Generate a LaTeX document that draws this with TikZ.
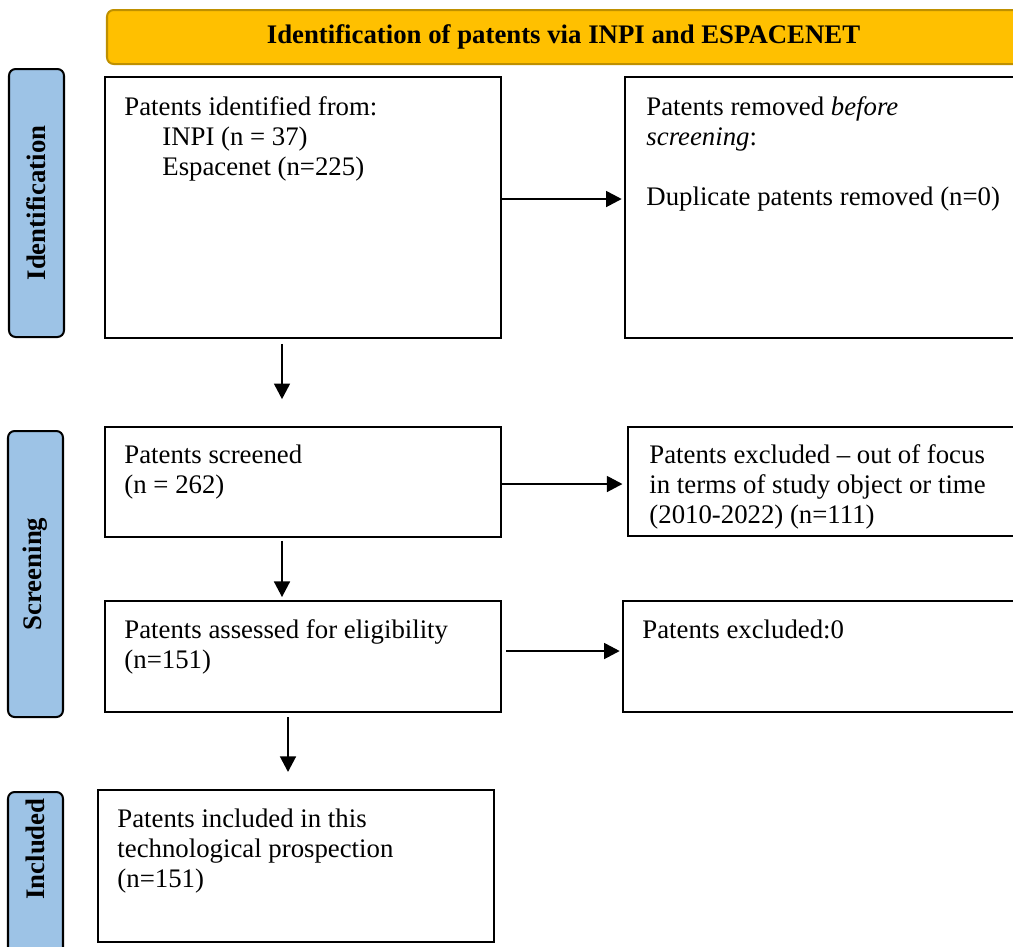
\documentclass[tikz,border=0pt]{standalone}
\usepackage{fontspec}
\setmainfont{Liberation Serif}
\usepackage{tikz}
\usetikzlibrary{arrows.meta,positioning,fit,calc}

\definecolor{headgold}{HTML}{FFC000}
\definecolor{headedge}{HTML}{BF9000}
\definecolor{phaseblue}{HTML}{9DC3E6}
\newcommand{\pu}{0.01574cm}

\begin{document}
\begin{tikzpicture}[x=\pu, y=-\pu,
    font=\fontsize{12}{13.5}\selectfont,
    box/.style={draw, line width=0.9pt, inner sep=0pt},
    phase/.style={draw, line width=0.9pt, rounded corners=3pt, fill=phaseblue, rotate=90, minimum height=55*\pu, inner sep=0pt, font=\fontsize{12}{13.5}\selectfont\bfseries},
    txt/.style={anchor=north west, align=left, inner sep=0pt},
    arr/.style={-{Triangle[length=7pt,width=7pt]}, line width=1.2pt}]

    \path[use as bounding box] (0,0) rectangle (1013,946);
    \clip (0,0) rectangle (1013,946);

    % header
    \node[box, draw=headedge, fill=headgold, rounded corners=3pt, fit={(107,10) (1020,64)}] (title) {};
    \node[inner sep=0pt, font=\fontsize{12}{13.5}\selectfont\bfseries] (titletxt) at (title.center) {Identification of patents via INPI and ESPACENET};

    % phases
    \node[phase, minimum width=268*\pu] (phaseid) at (36.5,203) {Identification};
    \node[phase, minimum width=286*\pu] (phasescr) at (35.5,574) {Screening};
    \node[phase, minimum width=168*\pu] (phaseinc) at (35.5,876) {};
    \node[rotate=90, inner sep=0pt, font=\fontsize{12}{13.5}\selectfont\bfseries] (phaseinctxt) at (35.5,849) {Included};

    % boxes
    \node[box, fit={(105,77) (501,338)}] (ident) {};
    \node[box, fit={(625,77) (1020,338)}] (removed) {};
    \node[box, fit={(105,427) (501,537)}] (screened) {};
    \node[box, fit={(628,427) (1020,536)}] (excluded) {};
    \node[box, fit={(105,601) (501,712)}] (assessed) {};
    \node[box, fit={(623,601) (1020,712)}] (noteligible) {};
    \node[box, fit={(98,790) (494,942)}] (included) {};

    \node[txt] (identtxt) at ($(ident.north west)+(20,20)$) {Patents identified from:\\\hspace*{17pt}INPI (n = 37)\\\hspace*{17pt}Espacenet (n=225)};
    \node[txt] (removedtxt) at ($(removed.north west)+(22,20)$) {Patents removed \textit{before}\\\textit{screening}:\\[13.5pt]Duplicate patents removed (n=0)};
    \node[txt] (screenedtxt) at ($(screened.north west)+(20,18)$) {Patents screened\\(n = 262)};
    \node[txt] (excludedtxt) at ($(excluded.north west)+(22,18)$) {Patents excluded -- out of focus\\in terms of study object or time\\(2010-2022) (n=111)};
    \node[txt] (assessedtxt) at ($(assessed.north west)+(20,19)$) {Patents assessed for eligibility\\(n=151)};
    \node[txt] (noteligibletxt) at ($(noteligible.north west)+(20,19)$) {Patents excluded:0};
    \node[txt] (includedtxt) at ($(included.north west)+(20,19)$) {Patents included in this\\technological prospection\\(n=151)};

    % arrows
    \coordinate (right1) at ($(ident.east)+(0,-8.5)$);
    \coordinate (right2) at ($(screened.east)+(0,2)$);
    \coordinate (right3) at ($(assessed.east)+(0,-5.5)$);
    \draw[arr, shorten >=1pt] (right1) -- (right1 -| removed.west);
    \draw[arr, shorten >=2pt] (right2) -- (right2 -| excluded.west);
    \draw[arr, shorten <=2pt, shorten >=1pt] (right3) -- (right3 -| noteligible.west);

    \coordinate (down1) at ($(ident.south)+(-21,0)$);
    \coordinate (down2) at ($(screened.south)+(-21,0)$);
    \coordinate (down3) at ($(assessed.south)+(-15,0)$);
    \draw[arr, shorten <=2.2pt, shorten >=12pt] (down1) -- (down1 |- screened.north);
    \draw[arr, shorten <=1.3pt, shorten >=1.3pt] (down2) -- (down2 |- assessed.north);
    \draw[arr, shorten <=1.8pt, shorten >=7.6pt] (down3) -- (down3 |- included.north);

\end{tikzpicture}
\end{document}
